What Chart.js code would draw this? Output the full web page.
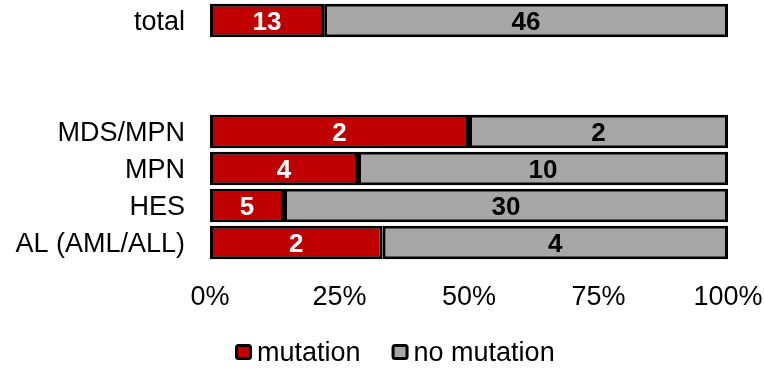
<!DOCTYPE html>
<html>
<head>
<meta charset="utf-8">
<script src="https://cdn.jsdelivr.net/npm/chart.js@4/dist/chart.umd.min.js"></script>
<style>
  html, body { margin: 0; padding: 0; background: #ffffff; }
  #wrap { width: 764px; height: 375px; }
</style>
</head>
<body>
<div id="wrap"><canvas id="c" width="764" height="375"></canvas></div>
<script>
// Patient groups (two empty rows separate the total from the subgroups)
const categories = ['total', '', '', 'MDS/MPN', 'MPN', 'HES', 'AL (AML/ALL)'];
// Number of patients with / without the mutation in each group
const mutation   = [13, null, null, 2, 4, 5, 2];
const noMutation = [46, null, null, 2, 10, 30, 4];
const seriesNames = ['mutation', 'no mutation'];
const xTicks = [0, 25, 50, 75, 100];

const FONT = '"Liberation Sans", Arial, sans-serif';
Chart.defaults.font.family = FONT;
Chart.defaults.color = '#000000';

// share of a group, in percent, for the 100% stacked bars
function share(part, other) {
  if (part == null || other == null) return null;
  return part / (part + other) * 100;
}
const mutationPct = mutation.map((v, i) => share(v, noMutation[i]));
const noMutationPct = noMutation.map((v, i) => share(v, mutation[i]));

// count labels centred inside each bar segment
const valueLabels = {
  id: 'valueLabels',
  afterDatasetsDraw(chart) {
    const ctx = chart.ctx;
    chart.data.datasets.forEach((ds, di) => {
      const meta = chart.getDatasetMeta(di);
      meta.data.forEach((bar, i) => {
        const n = ds.counts[i];
        if (n == null) return;
        const p = bar.getCenterPoint();
        ctx.save();
        ctx.font = 'bold 26px ' + FONT;
        ctx.fillStyle = ds.labelColor;
        ctx.textAlign = 'center';
        ctx.textBaseline = 'middle';
        ctx.fillText(String(n), p.x, p.y + 2);
        ctx.restore();
      });
    });
  }
};

// legend row under the axis: bordered swatch followed closely by the name
const legendRow = {
  id: 'legendRow',
  afterDraw(chart) {
    const ctx = chart.ctx;
    const y = 352;
    let x = 235;
    ctx.save();
    ctx.font = '27px ' + FONT;
    ctx.textBaseline = 'middle';
    ctx.textAlign = 'left';
    chart.data.datasets.forEach(ds => {
      ctx.fillStyle = ds.backgroundColor;
      ctx.strokeStyle = '#000000';
      ctx.lineWidth = 3;
      ctx.beginPath();
      ctx.roundRect(x + 1.5, y - 6.5, 14, 13, 2);
      ctx.fill();
      ctx.stroke();
      ctx.fillStyle = '#000000';
      ctx.fillText(ds.label, x + 22, y + 2);
      x += 22 + ctx.measureText(ds.label).width + 31;
    });
    ctx.restore();
  }
};

new Chart(document.getElementById('c'), {
  type: 'bar',
  data: {
    labels: categories,
    datasets: [
      {
        label: seriesNames[0],
        data: mutationPct,
        counts: mutation,
        labelColor: '#ffffff',
        backgroundColor: '#C00000',
        borderColor: '#000000',
        borderWidth: 3,
        borderSkipped: false,
        inflateAmount: 0,
        barPercentage: 0.9,
        categoryPercentage: 1.0
      },
      {
        label: seriesNames[1],
        data: noMutationPct,
        counts: noMutation,
        labelColor: '#000000',
        backgroundColor: '#A6A6A6',
        borderColor: '#000000',
        borderWidth: 3,
        borderSkipped: false,
        inflateAmount: 0,
        barPercentage: 0.9,
        categoryPercentage: 1.0
      }
    ]
  },
  options: {
    indexAxis: 'y',
    responsive: false,
    animation: false,
    devicePixelRatio: 1,
    layout: { padding: { top: 2, right: 36, bottom: 65, left: 0 } },
    plugins: {
      legend: { display: false },
      tooltip: { enabled: false }
    },
    scales: {
      x: {
        stacked: true,
        min: 0,
        max: 100,
        afterBuildTicks: s => { s.ticks = xTicks.map(v => ({ value: v })); },
        afterFit: s => { s.height = 49; s.paddingLeft = 0; s.paddingRight = 0; },
        ticks: {
          callback: v => v + '%',
          font: { size: 27 },
          color: '#000000',
          padding: 20,
          maxRotation: 0
        },
        grid: { display: false, drawTicks: false },
        border: { display: false }
      },
      y: {
        stacked: true,
        afterFit: s => { s.width = 210; s.paddingTop = 0; s.paddingBottom = 0; },
        ticks: {
          font: { size: 27 },
          color: '#000000',
          padding: 25,
          labelOffset: 2,
          autoSkip: false
        },
        grid: { display: false, drawTicks: false },
        border: { display: false }
      }
    }
  },
  plugins: [valueLabels, legendRow]
});
</script>
</body>
</html>
